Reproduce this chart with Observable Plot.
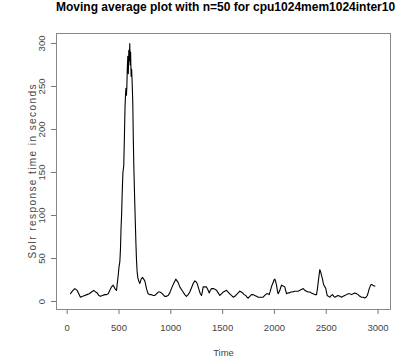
<!DOCTYPE html>
<html>
<head>
<meta charset="utf-8">
<script src="https://cdn.jsdelivr.net/npm/d3@7"></script>
<script src="https://cdn.jsdelivr.net/npm/@observablehq/plot@0.6"></script>
<style>
  body { margin: 0; background: white; }
  #title { width: 399px; box-sizing: border-box; padding-left: 56px; padding-right: 9px; height: 22px; line-height: 22px;
    text-align: center; font: bold 12px "Liberation Sans", Arial, sans-serif; color: #000; white-space: nowrap; }
</style>
</head>
<body>
<div id="title">Moving average plot with n=50 for cpu1024mem1024inter10</div>
<div id="chart"></div>
<script>
const titleText = "Moving average plot with n=50 for cpu1024mem1024inter10";
const xLabel = "Time";
const yLabel = "Solr response time in seconds";
const xTicks = [0, 500, 1000, 1500, 2000, 2500, 3000];
const yTicks = [0, 50, 100, 150, 200, 250, 300];

const time = [32,50,74,96,112,128,150,170,190,212,235,257,275,290,305,321,340,363,380,396,412,428,444,460,476,492,500,508,514,520,525,531,538,546,552,558,563,567,572,576,580,585,590,595,600,604,608,612,617,622,627,633,638,643,651,659,664,669,675,681,690,701,714,727,738,749,757,765,781,797,814,830,846,862,878,894,910,926,942,958,974,990,1006,1020,1032,1048,1060,1071,1087,1103,1119,1135,1151,1167,1183,1200,1216,1232,1244,1254,1264,1274,1285,1296,1304,1312,1328,1344,1357,1370,1382,1393,1415,1441,1457,1473,1489,1505,1521,1537,1553,1569,1585,1602,1618,1634,1650,1666,1680,1692,1708,1724,1735,1746,1762,1779,1795,1810,1827,1843,1867,1891,1907,1923,1936,1949,1960,1971,1980,1988,1996,2004,2012,2020,2028,2036,2044,2052,2060,2068,2084,2100,2108,2117,2130,2142,2158,2174,2194,2213,2229,2245,2261,2277,2293,2309,2325,2341,2357,2374,2390,2406,2414,2422,2430,2438,2447,2455,2464,2470,2477,2487,2496,2502,2509,2522,2535,2548,2561,2572,2583,2599,2615,2631,2647,2663,2679,2695,2711,2728,2744,2760,2776,2792,2808,2824,2840,2856,2872,2884,2896,2906,2915,2922,2928,2938,2948,2960,2970];
const avg = [9,12,15,13,9,5,6,7,8,9,11,13,11,10,7,6,7,8,8,9,13,17,19,15,13,30,40,46,60,86,100,126,150,158,190,225,240,248,240,250,270,285,265,292,280,300,275,290,262,270,255,232,190,158,120,86,65,48,35,28,24,21,26,28,26,24,20,15,9,8,8,7,7,9,11,11,10,8,6,6,7,10,15,19,22,26,24,22,17,14,11,8,6,8,11,16,21,24,23,21,17,13,9,7,11,17,17,17,14,10,13,15,15,13,10,7,9,11,12,13,11,9,7,5,6,8,10,12,11,10,8,7,5,4,6,8,8,7,6,5,5,5,7,9,9,8,12,17,20,22,25,26,23,19,13,9,11,13,16,19,18,17,13,9,10,10,11,11,12,12,12,13,14,15,13,12,11,11,10,9,8,8,14,22,30,37,34,30,26,22,19,17,15,11,7,6,5,7,8,6,5,6,7,6,5,6,7,8,9,9,8,9,10,9,8,6,5,5,4,5,7,11,15,17,19,20,19,18,18];

const data = time.map((t, i) => ({t, v: avg[i]}));

const chart = Plot.plot({
  width: 399,
  height: 338,
  marginTop: 11,
  marginBottom: 51,
  marginLeft: 56,
  marginRight: 9,
  style: {fontFamily: '"Liberation Sans", Arial, sans-serif', fontSize: "9.5px", color: "#444", background: "white"},
  x: {domain: [-103, 3120], label: null},
  y: {domain: [-9.3, 311.6], label: null},
  marks: [
    Plot.frame({stroke: "#888"}),
    Plot.axisX({ticks: xTicks, tickSize: 5, tickPadding: 10, tickFormat: d => String(d), label: null, stroke: "#777"}),
    Plot.axisY({ticks: yTicks, tickSize: 5, tickFormat: () => "", label: null, stroke: "#777"}),
    Plot.text(yTicks, {y: d => d, text: d => String(d), frameAnchor: "left", dx: -15, rotate: -90, textAnchor: "middle", lineAnchor: "middle", fill: "#444"}),
    Plot.text([xLabel], {frameAnchor: "bottom", dy: 43, text: d => d, lineAnchor: "middle", fill: "#444"}),
    Plot.text([yLabel], {frameAnchor: "left", dx: -24, rotate: -90, text: d => d, textAnchor: "middle", lineAnchor: "middle", fill: "#444", fontSize: 10}),
    Plot.lineY(data, {x: "t", y: "v", stroke: "black", strokeWidth: 1.1})
  ]
});
d3.select(chart).selectAll("text").filter(function() { return this.textContent === yLabel; })
  .attr("textLength", 174).attr("lengthAdjust", "spacing");
document.getElementById("chart").appendChild(chart);
</script>
</body>
</html>
